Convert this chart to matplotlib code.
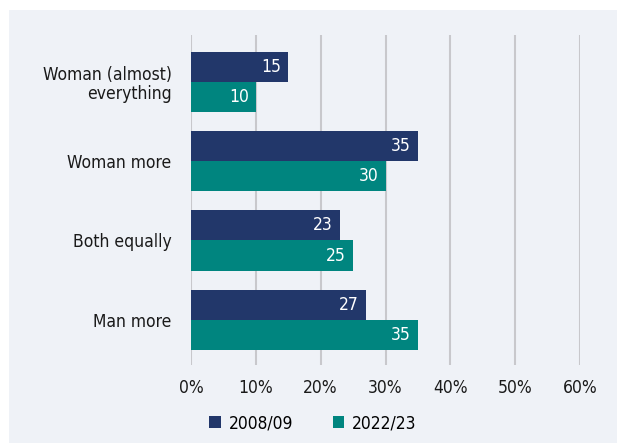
import numpy as np
import matplotlib
matplotlib.use("Agg")
import matplotlib.pyplot as plt
from matplotlib.patches import Rectangle

categories = ["Woman (almost)\neverything", "Woman more", "Both equally", "Man more"]
series_names = ["2008/09", "2022/23"]
values_2008 = [15, 35, 23, 27]
values_2022 = [10, 30, 25, 35]
xticks = [0, 10, 20, 30, 40, 50, 60]

navy = "#22376a"
teal = "#00857f"
panel = "#eff2f7"

plt.rcParams['font.family'] = ['DejaVu Sans']
plt.rcParams['font.stretch'] = 'condensed'

fig = plt.figure(figsize=(6.17, 4.43), dpi=100, facecolor="white")
# light panel behind the chart
fig.patches.append(Rectangle((9 / 617, 0), 1, (443 - 10) / 443,
                             transform=fig.transFigure, facecolor=panel,
                             edgecolor="none", zorder=-10))

ax = fig.add_axes([191 / 617, 1 - 365 / 443, (580 - 191) / 617, (365 - 35) / 443])
ax.set_facecolor("none")

y = np.arange(len(categories))
h = 0.38
b1 = ax.barh(y - h / 2, values_2008, height=h, color=navy, label=series_names[0], zorder=3)
b2 = ax.barh(y + h / 2, values_2022, height=h, color=teal, label=series_names[1], zorder=3)

for bars in (b1, b2):
    for bar in bars:
        w = bar.get_width()
        ax.text(w - 1.1, bar.get_y() + bar.get_height() / 2, str(int(w)),
                ha="right", va="center", color="white", fontsize=12.5, zorder=4)

ax.set_xlim(0, 60)
ax.set_ylim(3.57, -0.59)
ax.set_xticks(xticks)
ax.set_xticklabels([f"{t}%" for t in xticks], fontsize=12.5, color="#1a1a1a")
ax.set_yticks(y)
ax.set_yticklabels(categories, fontsize=12.5, color="#1a1a1a", linespacing=1.05)
ax.tick_params(axis="x", length=0, pad=10)
ax.tick_params(axis="y", length=0, pad=14)

ax.grid(axis="x", color="#c8c8cc", linewidth=1.5, zorder=0)
for s in ax.spines.values():
    s.set_visible(False)

fig.legend(handles=[b1, b2], labels=series_names, loc="center",
           bbox_to_anchor=(313 / 617, 1 - 423 / 443), ncol=2, frameon=False,
           fontsize=12.5, handlelength=0.65, handleheight=0.65, handletextpad=0.45,
           columnspacing=2.3)

fig.savefig("out.png", dpi=100, facecolor="white")
